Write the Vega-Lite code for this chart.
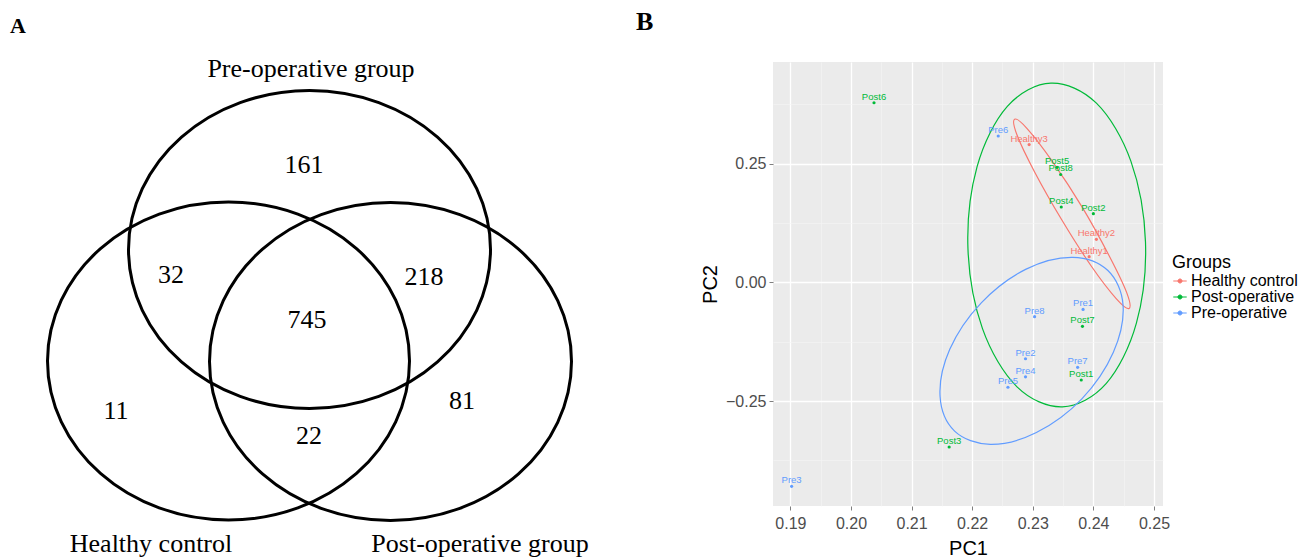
{
  "$schema": "https://vega.github.io/schema/vega-lite/v6.json",
  "padding": 0,
  "background": "white",
  "spacing": 6,
  "config": {"view": {"stroke": null}},
  "datasets": {
    "venn": [
      {"set": "Pre-operative group", "i": 0, "x": 490.5, "y": 249.5},
      {"set": "Pre-operative group", "i": 1, "x": 476.7, "y": 310.3},
      {"set": "Pre-operative group", "i": 2, "x": 437.5, "y": 361.9},
      {"set": "Pre-operative group", "i": 3, "x": 378.8, "y": 396.4},
      {"set": "Pre-operative group", "i": 4, "x": 309.5, "y": 408.5},
      {"set": "Pre-operative group", "i": 5, "x": 240.2, "y": 396.4},
      {"set": "Pre-operative group", "i": 6, "x": 181.5, "y": 361.9},
      {"set": "Pre-operative group", "i": 7, "x": 142.3, "y": 310.3},
      {"set": "Pre-operative group", "i": 8, "x": 128.5, "y": 249.5},
      {"set": "Pre-operative group", "i": 9, "x": 142.3, "y": 188.7},
      {"set": "Pre-operative group", "i": 10, "x": 181.5, "y": 137.1},
      {"set": "Pre-operative group", "i": 11, "x": 240.2, "y": 102.6},
      {"set": "Pre-operative group", "i": 12, "x": 309.5, "y": 90.5},
      {"set": "Pre-operative group", "i": 13, "x": 378.8, "y": 102.6},
      {"set": "Pre-operative group", "i": 14, "x": 437.5, "y": 137.1},
      {"set": "Pre-operative group", "i": 15, "x": 476.7, "y": 188.7},
      {"set": "Healthy control", "i": 0, "x": 409.5, "y": 361},
      {"set": "Healthy control", "i": 1, "x": 395.7, "y": 421.8},
      {"set": "Healthy control", "i": 2, "x": 356.5, "y": 473.4},
      {"set": "Healthy control", "i": 3, "x": 297.8, "y": 507.9},
      {"set": "Healthy control", "i": 4, "x": 228.5, "y": 520},
      {"set": "Healthy control", "i": 5, "x": 159.2, "y": 507.9},
      {"set": "Healthy control", "i": 6, "x": 100.5, "y": 473.4},
      {"set": "Healthy control", "i": 7, "x": 61.3, "y": 421.8},
      {"set": "Healthy control", "i": 8, "x": 47.5, "y": 361},
      {"set": "Healthy control", "i": 9, "x": 61.3, "y": 300.2},
      {"set": "Healthy control", "i": 10, "x": 100.5, "y": 248.6},
      {"set": "Healthy control", "i": 11, "x": 159.2, "y": 214.1},
      {"set": "Healthy control", "i": 12, "x": 228.5, "y": 202},
      {"set": "Healthy control", "i": 13, "x": 297.8, "y": 214.1},
      {"set": "Healthy control", "i": 14, "x": 356.5, "y": 248.6},
      {"set": "Healthy control", "i": 15, "x": 395.7, "y": 300.2},
      {"set": "Post-operative group", "i": 0, "x": 571.5, "y": 361.5},
      {"set": "Post-operative group", "i": 1, "x": 557.7, "y": 422.3},
      {"set": "Post-operative group", "i": 2, "x": 518.5, "y": 473.9},
      {"set": "Post-operative group", "i": 3, "x": 459.8, "y": 508.4},
      {"set": "Post-operative group", "i": 4, "x": 390.5, "y": 520.5},
      {"set": "Post-operative group", "i": 5, "x": 321.2, "y": 508.4},
      {"set": "Post-operative group", "i": 6, "x": 262.5, "y": 473.9},
      {"set": "Post-operative group", "i": 7, "x": 223.3, "y": 422.3},
      {"set": "Post-operative group", "i": 8, "x": 209.5, "y": 361.5},
      {"set": "Post-operative group", "i": 9, "x": 223.3, "y": 300.7},
      {"set": "Post-operative group", "i": 10, "x": 262.5, "y": 249.1},
      {"set": "Post-operative group", "i": 11, "x": 321.2, "y": 214.6},
      {"set": "Post-operative group", "i": 12, "x": 390.5, "y": 202.5},
      {"set": "Post-operative group", "i": 13, "x": 459.8, "y": 214.6},
      {"set": "Post-operative group", "i": 14, "x": 518.5, "y": 249.1},
      {"set": "Post-operative group", "i": 15, "x": 557.7, "y": 300.7}
    ],
    "vennText": [
      {"label": "Pre-operative group", "x": 311, "y": 77},
      {"label": "Healthy control", "x": 151, "y": 552},
      {"label": "Post-operative group", "x": 480, "y": 552},
      {"label": "161", "x": 304, "y": 173},
      {"label": "32", "x": 171, "y": 283},
      {"label": "218", "x": 424, "y": 285},
      {"label": "745", "x": 307, "y": 328},
      {"label": "11", "x": 116, "y": 419},
      {"label": "22", "x": 309, "y": 444},
      {"label": "81", "x": 462, "y": 409}
    ],
    "panelA": [
      {"label": "A", "x": 10, "y": 33}
    ],
    "pca": [
      {"sample": "Post6", "group": "Post-operative", "PC1": 0.2038, "PC2": 0.378},
      {"sample": "Pre6", "group": "Pre-operative", "PC1": 0.2243, "PC2": 0.308},
      {"sample": "Healthy3", "group": "Healthy control", "PC1": 0.2294, "PC2": 0.290},
      {"sample": "Post5", "group": "Post-operative", "PC1": 0.2340, "PC2": 0.242},
      {"sample": "Post8", "group": "Post-operative", "PC1": 0.2346, "PC2": 0.227},
      {"sample": "Post4", "group": "Post-operative", "PC1": 0.2347, "PC2": 0.1585},
      {"sample": "Post2", "group": "Post-operative", "PC1": 0.2400, "PC2": 0.1445},
      {"sample": "Healthy2", "group": "Healthy control", "PC1": 0.2405, "PC2": 0.0905},
      {"sample": "Healthy1", "group": "Healthy control", "PC1": 0.2393, "PC2": 0.054},
      {"sample": "Pre1", "group": "Pre-operative", "PC1": 0.2383, "PC2": -0.057},
      {"sample": "Post7", "group": "Post-operative", "PC1": 0.2382, "PC2": -0.0926},
      {"sample": "Pre8", "group": "Pre-operative", "PC1": 0.2303, "PC2": -0.0724},
      {"sample": "Pre2", "group": "Pre-operative", "PC1": 0.2288, "PC2": -0.161},
      {"sample": "Pre7", "group": "Pre-operative", "PC1": 0.2374, "PC2": -0.179},
      {"sample": "Pre4", "group": "Pre-operative", "PC1": 0.2288, "PC2": -0.199},
      {"sample": "Post1", "group": "Post-operative", "PC1": 0.2380, "PC2": -0.2057},
      {"sample": "Pre5", "group": "Pre-operative", "PC1": 0.2259, "PC2": -0.221},
      {"sample": "Post3", "group": "Post-operative", "PC1": 0.2162, "PC2": -0.3467},
      {"sample": "Pre3", "group": "Pre-operative", "PC1": 0.1902, "PC2": -0.4295}
    ],
    "ellipse": [
      {"group": "Post-operative", "i": 0, "PC1": 0.2330, "PC2": 0.4192},
      {"group": "Post-operative", "i": 1, "PC1": 0.2405, "PC2": 0.3771},
      {"group": "Post-operative", "i": 2, "PC1": 0.2462, "PC2": 0.2545},
      {"group": "Post-operative", "i": 3, "PC1": 0.2486, "PC2": 0.0851},
      {"group": "Post-operative", "i": 4, "PC1": 0.2471, "PC2": -0.0861},
      {"group": "Post-operative", "i": 5, "PC1": 0.2421, "PC2": -0.2133},
      {"group": "Post-operative", "i": 6, "PC1": 0.2349, "PC2": -0.2621},
      {"group": "Post-operative", "i": 7, "PC1": 0.2274, "PC2": -0.2200},
      {"group": "Post-operative", "i": 8, "PC1": 0.2217, "PC2": -0.0975},
      {"group": "Post-operative", "i": 9, "PC1": 0.2193, "PC2": 0.0720},
      {"group": "Post-operative", "i": 10, "PC1": 0.2208, "PC2": 0.2432},
      {"group": "Post-operative", "i": 11, "PC1": 0.2258, "PC2": 0.3703},
      {"group": "Healthy control", "i": 0, "PC1": 0.2459, "PC2": -0.0549},
      {"group": "Healthy control", "i": 1, "PC1": 0.2455, "PC2": -0.0217},
      {"group": "Healthy control", "i": 2, "PC1": 0.2426, "PC2": 0.0560},
      {"group": "Healthy control", "i": 3, "PC1": 0.2382, "PC2": 0.1573},
      {"group": "Healthy control", "i": 4, "PC1": 0.2332, "PC2": 0.2552},
      {"group": "Healthy control", "i": 5, "PC1": 0.2291, "PC2": 0.3232},
      {"group": "Healthy control", "i": 6, "PC1": 0.2270, "PC2": 0.3434},
      {"group": "Healthy control", "i": 7, "PC1": 0.2274, "PC2": 0.3101},
      {"group": "Healthy control", "i": 8, "PC1": 0.2303, "PC2": 0.2324},
      {"group": "Healthy control", "i": 9, "PC1": 0.2348, "PC2": 0.1312},
      {"group": "Healthy control", "i": 10, "PC1": 0.2397, "PC2": 0.0333},
      {"group": "Healthy control", "i": 11, "PC1": 0.2438, "PC2": -0.0347},
      {"group": "Pre-operative", "i": 0, "PC1": 0.2424, "PC2": 0.0248},
      {"group": "Pre-operative", "i": 1, "PC1": 0.2449, "PC2": -0.0484},
      {"group": "Pre-operative", "i": 2, "PC1": 0.2433, "PC2": -0.1474},
      {"group": "Pre-operative", "i": 3, "PC1": 0.2381, "PC2": -0.2453},
      {"group": "Pre-operative", "i": 4, "PC1": 0.2306, "PC2": -0.3162},
      {"group": "Pre-operative", "i": 5, "PC1": 0.2230, "PC2": -0.3411},
      {"group": "Pre-operative", "i": 6, "PC1": 0.2171, "PC2": -0.3133},
      {"group": "Pre-operative", "i": 7, "PC1": 0.2147, "PC2": -0.2400},
      {"group": "Pre-operative", "i": 8, "PC1": 0.2163, "PC2": -0.1411},
      {"group": "Pre-operative", "i": 9, "PC1": 0.2215, "PC2": -0.0432},
      {"group": "Pre-operative", "i": 10, "PC1": 0.2289, "PC2": 0.0278},
      {"group": "Pre-operative", "i": 11, "PC1": 0.2366, "PC2": 0.0526}
    ]
  },
  "hconcat": [
    {
      "width": 630,
      "height": 560,
      "view": {"stroke": null, "fill": null},
      "layer": [
        {
          "data": {"name": "venn"},
          "mark": {"type": "line", "interpolate": "cardinal-closed", "color": "black", "strokeWidth": 3},
          "encoding": {
            "x": {"field": "x", "type": "quantitative", "scale": {"domain": [0, 630], "nice": false, "zero": false}, "axis": null},
            "y": {"field": "y", "type": "quantitative", "scale": {"domain": [62, 622], "reverse": true, "nice": false, "zero": false}, "axis": null},
            "detail": {"field": "set"},
            "order": {"field": "i", "type": "quantitative"}
          }
        },
        {
          "data": {"name": "vennText"},
          "mark": {"type": "text", "font": "Liberation Serif", "fontSize": 26, "align": "center", "baseline": "alphabetic", "color": "black"},
          "encoding": {
            "x": {"field": "x", "type": "quantitative"},
            "y": {"field": "y", "type": "quantitative"},
            "text": {"field": "label"}
          }
        },
        {
          "data": {"name": "panelA"},
          "mark": {"type": "text", "font": "Liberation Serif", "fontWeight": "bold", "fontSize": 22, "align": "left", "baseline": "alphabetic", "color": "black"},
          "encoding": {
            "x": {"field": "x", "type": "quantitative"},
            "y": {"field": "y", "type": "quantitative"},
            "text": {"field": "label"}
          }
        }
      ]
    },
    {
      "width": 390,
      "height": 444,
      "view": {"fill": "#EBEBEB", "stroke": null},
      "title": {"text": ["", "B"], "lineHeight": 9, "anchor": "start", "frame": "group", "dx": -137, "font": "Liberation Serif", "fontWeight": "bold", "fontSize": 26, "offset": 1, "baseline": "bottom", "color": "black"},
      "resolve": {"axis": {"x": "independent", "y": "independent"}},
      "layer": [
        {
          "data": {"name": "ellipse"},
          "mark": {"type": "line", "interpolate": "cardinal-closed", "strokeWidth": 1.2},
          "encoding": {
            "x": {"field": "PC1", "type": "quantitative", "scale": {"domain": [0.18713, 0.25149], "nice": false, "zero": false},
              "axis": {"orient": "bottom", "title": "PC1", "values": [0.19, 0.2, 0.21, 0.22, 0.23, 0.24, 0.25], "format": ".2f", "grid": true, "gridColor": "white", "gridWidth": 1.3, "domain": false, "tickColor": "#7F7F7F", "tickSize": 4, "labelColor": "#4D4D4D", "labelFont": "Liberation Sans", "labelFontSize": 16, "labelPadding": 5, "labelFlush": false, "labelOverlap": false, "titleFont": "Liberation Sans", "titleFontSize": 20, "titleFontWeight": "normal", "titleColor": "black", "titlePadding": 7}},
            "y": {"field": "PC2", "type": "quantitative", "scale": {"domain": [-0.4709, 0.4638], "nice": false, "zero": false},
              "axis": {"orient": "left", "title": "PC2", "values": [-0.25, 0, 0.25], "format": ".2f", "grid": true, "gridColor": "white", "gridWidth": 1.3, "domain": false, "tickColor": "#7F7F7F", "tickSize": 4, "labelColor": "#4D4D4D", "labelFont": "Liberation Sans", "labelFontSize": 16, "labelPadding": 3, "labelFlush": false, "labelOverlap": false, "titleFont": "Liberation Sans", "titleFontSize": 20, "titleFontWeight": "normal", "titleColor": "black", "titlePadding": 5}},
            "color": {"field": "group", "type": "nominal", "scale": {"domain": ["Healthy control", "Post-operative", "Pre-operative"], "range": ["#F8766D", "#00BA38", "#619CFF"]}},
            "order": {"field": "i", "type": "quantitative"}
          }
        },
        {
          "data": {"name": "pca"},
          "mark": {"type": "point", "filled": true, "size": 10, "opacity": 1},
          "encoding": {
            "x": {"field": "PC1", "type": "quantitative",
              "axis": {"orient": "bottom", "title": null, "values": [0.195, 0.205, 0.215, 0.225, 0.235, 0.245], "grid": true, "gridColor": "#F5F5F5", "gridWidth": 0.6, "domain": false, "ticks": false, "labels": false}},
            "y": {"field": "PC2", "type": "quantitative",
              "axis": {"orient": "left", "title": null, "values": [-0.375, -0.125, 0.125, 0.375], "grid": true, "gridColor": "#F5F5F5", "gridWidth": 0.6, "domain": false, "ticks": false, "labels": false}},
            "color": {"field": "group", "type": "nominal",
              "legend": {"title": "Groups", "orient": "none", "legendX": 1172, "legendY": 192, "titleFont": "Liberation Sans", "titleFontSize": 18, "titleFontWeight": "normal", "titleColor": "black", "titlePadding": 1, "labelFont": "Liberation Sans", "labelFontSize": 16, "labelColor": "black", "labelOffset": 3, "rowPadding": -1,
                "symbolType": "M-1,0L1,0M-0.3,0A0.3,0.3 0 1,0 0.3,0A0.3,0.3 0 1,0 -0.3,0", "symbolSize": 180, "symbolStrokeWidth": 1,
                "encode": {"symbols": {"update": {"stroke": {"scale": "color", "field": "value"}, "fill": {"scale": "color", "field": "value"}, "opacity": {"value": 1}}}}}}
          }
        },
        {
          "data": {"name": "pca"},
          "mark": {"type": "text", "font": "Liberation Sans", "fontSize": 9.5, "align": "center", "baseline": "alphabetic", "dy": -3},
          "encoding": {
            "x": {"field": "PC1", "type": "quantitative", "axis": null},
            "y": {"field": "PC2", "type": "quantitative", "axis": null},
            "text": {"field": "sample"},
            "color": {"field": "group", "type": "nominal"}
          }
        }
      ]
    }
  ]
}
